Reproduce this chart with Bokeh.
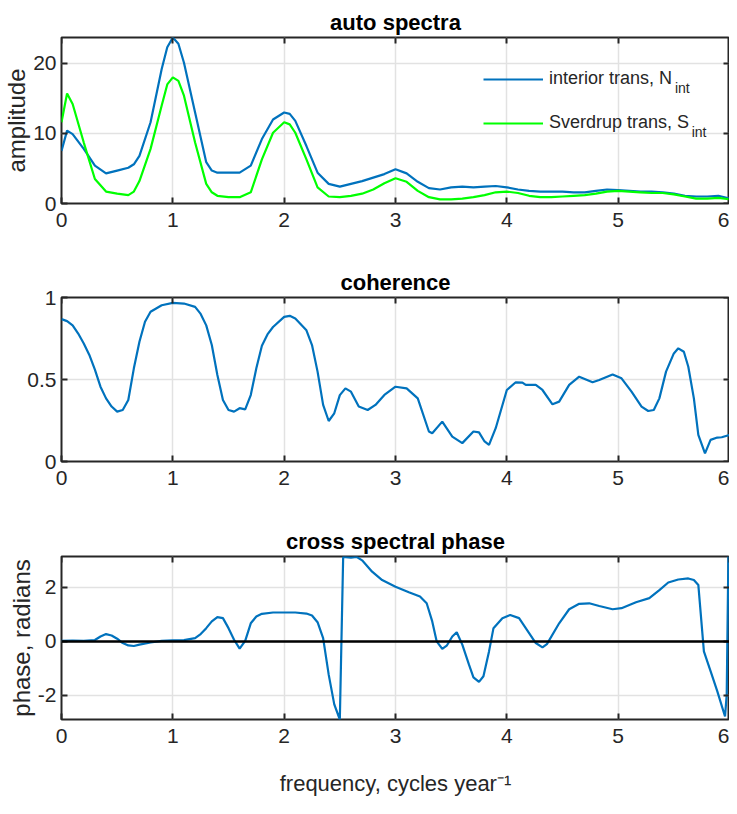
import numpy as np
from bokeh.plotting import figure
from bokeh.models import LinearAxis, FixedTicker, Range1d, Span, Legend, LegendItem, Label
from bokeh.layouts import column
from bokeh.embed import file_html
from bokeh.resources import INLINE

# auto spectra
freq_auto = [0, 0.05, 0.1, 0.2, 0.3, 0.4, 0.5, 0.6, 0.65, 0.7, 0.8, 0.9, 0.95, 1.0, 1.05,
             1.1, 1.2, 1.3, 1.35, 1.4, 1.5, 1.6, 1.7, 1.8, 1.9, 2.0, 2.05, 2.1, 2.2, 2.3,
             2.4, 2.5, 2.6, 2.7, 2.8, 2.9, 3.0, 3.1, 3.2, 3.3, 3.4, 3.5, 3.6, 3.7, 3.8,
             3.9, 4.0, 4.1, 4.2, 4.3, 4.4, 4.5, 4.6, 4.7, 4.8, 4.9, 5.0, 5.1, 5.2, 5.3,
             5.4, 5.5, 5.6, 5.7, 5.8, 5.9, 6.0]
interior_amp = [7.5, 10.4, 9.9, 7.8, 5.4, 4.3, 4.7, 5.1, 5.6, 6.8, 11.6, 19.2, 22.3, 23.7, 22.8,
                20.1, 13.0, 5.9, 4.7, 4.4, 4.4, 4.4, 5.4, 9.2, 12.0, 13.0, 12.8, 11.8, 8.2, 4.4,
                2.8, 2.4, 2.8, 3.2, 3.7, 4.2, 4.9, 4.3, 3.1, 2.2, 2.0, 2.3, 2.4, 2.3, 2.4,
                2.5, 2.3, 2.0, 1.8, 1.7, 1.7, 1.7, 1.6, 1.6, 1.8, 2.0, 1.9, 1.8, 1.7, 1.7,
                1.6, 1.4, 1.1, 1.0, 1.0, 1.1, 0.7]
sverdrup_amp = [11.6, 15.7, 14.2, 8.7, 3.5, 1.7, 1.4, 1.2, 1.7, 3.2, 7.8, 14.0, 17.0, 18.0, 17.5,
                15.4, 8.7, 2.8, 1.6, 1.1, 0.9, 0.9, 1.6, 6.3, 10.1, 11.6, 11.3, 10.1, 6.3, 2.3,
                1.0, 0.9, 1.1, 1.4, 2.0, 2.9, 3.6, 3.1, 1.8, 0.9, 0.6, 0.6, 0.7, 0.9, 1.2,
                1.6, 1.7, 1.5, 1.1, 0.9, 0.9, 1.0, 1.1, 1.2, 1.4, 1.7, 1.8, 1.7, 1.6, 1.5,
                1.5, 1.3, 1.0, 0.7, 0.7, 0.8, 0.6]

# coherence
freq_coh = [0, 0.05, 0.1, 0.15, 0.2, 0.25, 0.3, 0.35, 0.4, 0.45, 0.5, 0.55, 0.6, 0.65, 0.7,
            0.75, 0.8, 0.9, 1.0, 1.1, 1.2, 1.25, 1.3, 1.35, 1.4, 1.45, 1.5, 1.55, 1.6, 1.65,
            1.7, 1.75, 1.8, 1.85, 1.9, 2.0, 2.05, 2.1, 2.2, 2.25, 2.3, 2.35, 2.4, 2.45, 2.5,
            2.55, 2.6, 2.67, 2.75, 2.82, 2.9, 3.0, 3.1, 3.2, 3.3, 3.33, 3.42, 3.51, 3.6, 3.7,
            3.75, 3.8, 3.84, 3.9, 4.0, 4.08, 4.14, 4.17, 4.26, 4.32, 4.41, 4.47, 4.56, 4.65,
            4.77, 4.83, 4.95, 5.03, 5.12, 5.21, 5.27, 5.32, 5.37, 5.43, 5.5, 5.54, 5.59, 5.63,
            5.68, 5.72, 5.78, 5.83, 5.89, 5.93, 6.0]
coherence = [0.868, 0.856, 0.83, 0.78, 0.72, 0.65, 0.56, 0.456, 0.385, 0.335, 0.304, 0.314, 0.375,
             0.568, 0.73, 0.852, 0.913, 0.953, 0.967, 0.963, 0.943, 0.90, 0.83, 0.71, 0.527,
             0.375, 0.314, 0.304, 0.325, 0.318, 0.405, 0.568, 0.706, 0.775, 0.82, 0.882, 0.888,
             0.872, 0.80, 0.71, 0.548, 0.345, 0.247, 0.294, 0.405, 0.446, 0.426, 0.335, 0.314,
             0.345, 0.406, 0.456, 0.446, 0.385, 0.183, 0.172, 0.243, 0.152, 0.112, 0.183, 0.178,
             0.122, 0.101, 0.203, 0.436, 0.483, 0.481, 0.467, 0.467, 0.436, 0.349, 0.365, 0.467,
             0.517, 0.483, 0.497, 0.531, 0.507, 0.426, 0.335, 0.308, 0.314, 0.385, 0.548, 0.659,
             0.690, 0.669, 0.578, 0.385, 0.162, 0.05, 0.132, 0.146, 0.148, 0.162]

# cross spectral phase
freq_phase = [0, 0.1, 0.2, 0.3, 0.35, 0.4, 0.45, 0.5, 0.55, 0.6, 0.65, 0.7, 0.8, 0.9, 1.0,
              1.1, 1.2, 1.25, 1.3, 1.35, 1.4, 1.45, 1.5, 1.55, 1.6, 1.65, 1.7, 1.75, 1.8, 1.9,
              2.0, 2.1, 2.2, 2.25, 2.3, 2.35, 2.4, 2.45, 2.5, 2.53, 2.6, 2.65, 2.7, 2.79, 2.88,
              3.0, 3.12, 3.22, 3.28, 3.33, 3.37, 3.42, 3.46, 3.51, 3.55, 3.6, 3.66, 3.7, 3.75,
              3.79, 3.84, 3.88, 3.96, 4.03, 4.11, 4.2, 4.26, 4.32, 4.36, 4.47, 4.56, 4.65, 4.74,
              4.83, 4.95, 5.03, 5.16, 5.28, 5.37, 5.45, 5.54, 5.63, 5.68, 5.72, 5.77, 5.83, 5.89,
              5.96, 5.975, 5.99]
phase = [0.02, 0.03, 0.02, 0.05, 0.18, 0.27, 0.22, 0.1, -0.06, -0.15, -0.17, -0.12, -0.04, 0.02,
         0.04, 0.05, 0.12, 0.27, 0.49, 0.74, 0.9, 0.86, 0.49, 0.06, -0.27, 0.02, 0.67, 0.92, 1.02,
         1.07, 1.07, 1.07, 1.03, 0.96, 0.71, 0.12, -1.23, -2.33, -2.89, 3.13, 3.10, 3.13, 3.0,
         2.58, 2.27, 2.02, 1.82, 1.66, 1.41, 0.74, 0.0, -0.28, -0.16, 0.18, 0.34, -0.12, -0.86,
         -1.33, -1.5, -1.29, -0.37, 0.49, 0.86, 0.98, 0.86, 0.31, -0.06, -0.22, -0.1, 0.67, 1.19,
         1.39, 1.41, 1.31, 1.19, 1.23, 1.45, 1.6, 1.9, 2.18, 2.29, 2.33, 2.27, 2.09, -0.37, -1.1,
         -1.84, -2.78, -1.96, 3.14]

x_ticks = [0, 1, 2, 3, 4, 5, 6]
amp_ticks = [0, 10, 20]
coh_ticks = [0, 0.5, 1]
phase_ticks = [-2, 0, 2]

BLUE = "#0072BD"
GREEN = "#00FF00"
AX = "#262626"
FONT = "Liberation Sans"


def panel(title, y_range, yticks, labels, height, top, bottom, ylabel=None, xlabel=None):
    p = figure(width=729, height=height, x_range=Range1d(0, 6), y_range=y_range,
               min_border_left=53, min_border_right=0, min_border_top=top,
               min_border_bottom=bottom, output_backend="svg", toolbar_location=None)
    # top and right axes carry only the inward ticks of the box
    p.add_layout(LinearAxis(fixed_location=y_range.end), "above")
    p.add_layout(LinearAxis(fixed_location=6), "right")
    p.title.text = title
    p.title.align = "center"
    p.title.text_font = FONT
    p.title.text_font_size = "22px"
    p.title.text_font_style = "bold"
    p.title.text_color = "black"
    p.title.standoff = 6
    p.outline_line_color = AX
    p.outline_line_width = 2
    p.outline_line_alpha = 1
    for ax in p.axis:
        ax.axis_line_color = None
        ax.major_tick_in = 6
        ax.major_tick_out = 0
        ax.major_tick_line_color = AX
        ax.major_tick_line_width = 2
        ax.minor_tick_line_color = None
        ax.major_label_text_font = FONT
        ax.major_label_text_font_size = "21px"
        ax.major_label_text_color = AX
    p.xaxis.ticker = FixedTicker(ticks=x_ticks)
    p.yaxis.ticker = FixedTicker(ticks=yticks)
    p.left[0].major_label_overrides = labels
    p.below[0].major_label_standoff = 9
    p.left[0].major_label_standoff = 5
    p.above[0].major_label_overrides = {t: "" for t in x_ticks}
    p.right[0].major_label_overrides = {t: "" for t in yticks}
    for ax in (p.above[0], p.right[0]):
        ax.major_label_text_color = None
        ax.major_label_standoff = 0
    p.grid.grid_line_color = "#e2e2e2"
    p.grid.grid_line_width = 1.5
    if ylabel:
        p.left[0].axis_label = ylabel
        p.left[0].axis_label_text_font = FONT
        p.left[0].axis_label_text_font_size = "24px"
        p.left[0].axis_label_text_font_style = "normal"
        p.left[0].axis_label_text_color = AX
        p.left[0].axis_label_standoff = 0
    if xlabel:
        p.below[0].axis_label = xlabel
        p.below[0].axis_label_text_font = FONT
        p.below[0].axis_label_text_font_size = "22px"
        p.below[0].axis_label_text_font_style = "normal"
        p.below[0].axis_label_text_color = AX
        p.below[0].axis_label_standoff = 25
    return p


p1 = panel("auto spectra", Range1d(0, max(interior_amp)), amp_ticks,
           {0: "0", 10: "10", 20: "20"}, 247, 37, 44, ylabel="amplitude")
r_int = p1.line(freq_auto, interior_amp, line_color=BLUE, line_width=2.2)
r_sv = p1.line(freq_auto, sverdrup_amp, line_color=GREEN, line_width=2.2)
legend = Legend(items=[LegendItem(label="interior trans, N", renderers=[r_int]),
                       LegendItem(label="Sverdrup trans, S", renderers=[r_sv])],
                location=(422, 69), padding=0, spacing=21, glyph_width=60, glyph_height=20,
                label_height=23, label_standoff=6, border_line_color=None,
                background_fill_alpha=0, label_text_font=FONT, label_text_font_size="18px",
                label_text_color=AX)
p1.add_layout(legend)
p1.add_layout(Label(x=5.51, y=15.3, text="int", text_font=FONT, text_font_size="14px",
                    text_color=AX))
p1.add_layout(Label(x=5.66, y=9.1, text="int", text_font=FONT, text_font_size="14px",
                    text_color=AX))

p2 = panel("coherence", Range1d(0, 1), coh_ticks, {0: "0", 0.5: "0.5", 1: "1"}, 258, 50, 44)
p2.line(freq_coh, coherence, line_color=BLUE, line_width=2.2)

p3 = panel("cross spectral phase", Range1d(min(phase), np.pi), phase_ticks,
           {-2: "-2", 0: "0", 2: "2"}, 293, 51, 78, ylabel="phase, radians",
           xlabel="frequency, cycles year\u207b\u00b9")
p3.add_layout(Span(location=0, dimension="width", line_color="black", line_width=2.5))
p3.line(freq_phase, phase, line_color=BLUE, line_width=2.2)

layout = column(p1, p2, p3, spacing=0)
open("out.html", "w").write(file_html(layout, INLINE))
